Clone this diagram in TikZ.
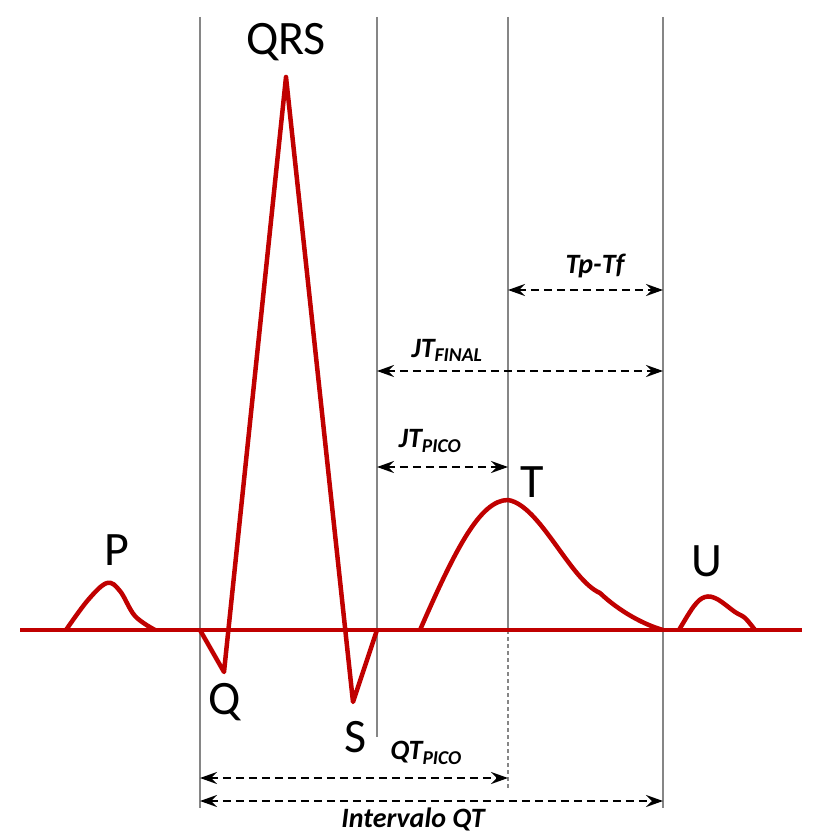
\documentclass[tikz,border=0pt]{standalone}
\usepackage{fontspec}
\setmainfont{Carlito}
\usetikzlibrary{arrows.meta}

\tikzset{
    wave/.style={draw=ecgred, line width=4.5pt, line join=round},
    marker/.style={draw=gray!95, line width=1.8pt},
    span/.style={draw=black, line width=2.4pt, dash pattern=on 8pt off 5pt,
        {Stealth[length=17pt,width=12pt,inset=6pt]}-{Stealth[length=17pt,width=12pt,inset=6pt]}},
    bigtag/.style={font=\fontsize{48}{52}\selectfont, inner sep=0pt},
    smalltag/.style={font=\fontsize{28}{31}\selectfont\bfseries\itshape, inner sep=0pt}
}
\definecolor{ecgred}{HTML}{C00000}

\begin{document}
\begin{tikzpicture}[x=1pt, y=-1pt]
    \useasboundingbox (0,0) rectangle (823,840);

    % vertical markers
    \foreach \x/\b [count=\i] in {200/808, 377/737, 663/808}
        {\coordinate (top\i) at (\x,17);
        \coordinate (bot\i) at (\x,\b);
        \draw[marker] (top\i) -- (bot\i);}
    \coordinate (tpk) at (508,17);
    \coordinate (tbase) at (508,630);
    \coordinate (tend) at (508,790);
    \draw[marker] (tpk) -- (tbase);
    \draw[marker, line width=1.3pt, dash pattern=on 4pt off 3pt] (tbase) -- (tend);

    % baseline and waves
    \draw[wave] (20,630) -- (802,630);
    \draw[wave] plot[smooth, tension=0.6] coordinates {(66,630) (88,600) (107,583) (120,591) (135,616) (155,630)};
    \draw[wave] (200,630) -- (224,672) -- (286,77) -- (353,702) -- (377,630);
    \draw[wave] (420,630) .. controls (455,550) and (480,500) .. (508,500)
        .. controls (540,505) and (570,580) .. (600,593)
        .. controls (620,612) and (645,625) .. (663,630);
    \draw[wave] plot[smooth, tension=0.6] coordinates {(679,630) (694,606) (705,597) (717,599) (735,612) (745,618) (755,630)};

    % wave names
    \node[bigtag] (qrs) at (286,42) {QRS};
    \node[bigtag] (p) at (117,550) {P};
    \node[bigtag] (q) at (225,702) {Q};
    \node[bigtag] (s) at (356,737) {S};
    \node[bigtag] (t) at (532,482) {T};
    \node[bigtag] (u) at (707,561) {U};

    % intervals
    \coordinate (a1) at (508,290);   \coordinate (b1) at (663,290);
    \coordinate (a2) at (377,371);   \coordinate (b2) at (663,371);
    \coordinate (a3) at (377,467);   \coordinate (b3) at (508,467);
    \coordinate (a4) at (200,778);   \coordinate (b4) at (508,778);
    \coordinate (a5) at (200,801);   \coordinate (b5) at (663,801);
    \foreach \i in {1,...,5}
        \draw[span] (a\i) -- (b\i);

    \node[smalltag] (tptf) at (595,266) {Tp-Tf};
    \node[smalltag] (jtf) at (447,350) {JT\textsubscript{FINAL}};
    \node[smalltag] (jtp) at (430,441) {JT\textsubscript{PICO}};
    \node[smalltag] (qtp) at (426,753) {QT\textsubscript{PICO}};
    \node[smalltag] (qt) at (413,819) {Intervalo QT};

\end{tikzpicture}
\end{document}
